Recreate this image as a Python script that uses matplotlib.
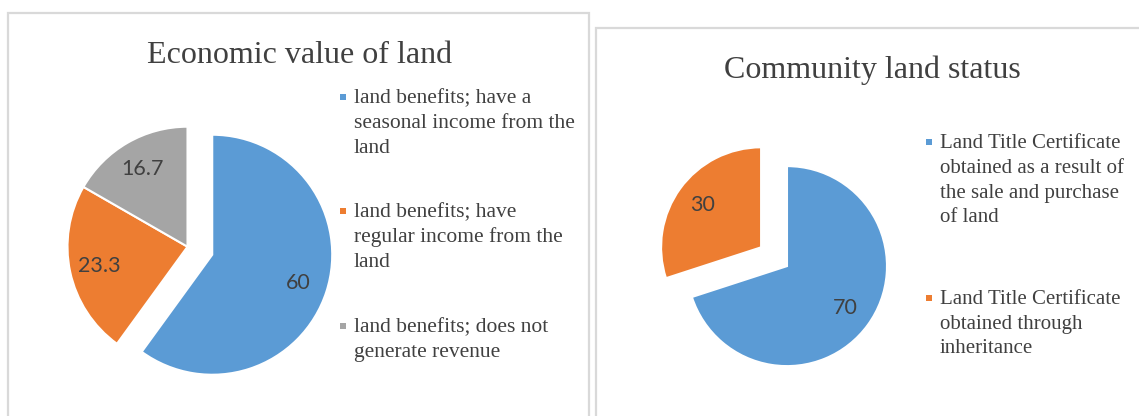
import matplotlib
matplotlib.use("Agg")
from matplotlib import pyplot as plt
from matplotlib.patches import Rectangle

# left chart: economic value of land
econ_labels = ["land benefits; have a\nseasonal income from the\nland",
               "land benefits; have\nregular income from the\nland",
               "land benefits; does not\ngenerate revenue"]
econ_values = [60, 23.3, 16.7]

# right chart: community land status
status_labels = ["Land Title Certificate\nobtained as a result of\nthe sale and purchase\nof land",
                 "Land Title Certificate\nobtained through\ninheritance"]
status_values = [70, 30]

blue = "#5B9BD5"
orange = "#ED7D31"
grey = "#A5A5A5"
txt = "#404040"
border = "#D9D9D9"

W, H = 1139, 416
fig = plt.figure(figsize=(W / 100, H / 100), dpi=100)
ax = fig.add_axes([0, 0, 1, 1])


def fy(y):
    # pixel row (from top) -> data y
    return H - y


def fmt(p):
    return "{:.3g}".format(p)


# panel borders
ax.add_patch(Rectangle((8, fy(440)), 581, 440 - 13, fill=False, ec=border, lw=1.6))
ax.add_patch(Rectangle((596, fy(440)), 600, 440 - 28, fill=False, ec=border, lw=1.6))

# pies
_, t1, a1 = ax.pie(econ_values, colors=[blue, orange, grey], startangle=90, counterclock=False,
                   explode=[26, 0, 0], radius=120, center=(187.5, fy(246.7)),
                   autopct=fmt, pctdistance=0.75,
                   wedgeprops=dict(edgecolor="white", linewidth=1.5))
_, t2, a2 = ax.pie(status_values, colors=[blue, orange], startangle=90, counterclock=False,
                   explode=[32, 0], radius=100, center=(761.1, fy(247.3)),
                   autopct=fmt, pctdistance=0.72,
                   wedgeprops=dict(edgecolor="white", linewidth=1.5))
for a in list(a1) + list(a2):
    a.set_fontfamily("Lato")
    a.set_fontsize(15.5)
    a.set_color(txt)

ax.set_xlim(0, W)
ax.set_ylim(0, H)
ax.set_aspect("auto")
ax.axis("off")

# titles
ax.text(299.5, fy(63.3), "Economic value of land", ha="center", va="baseline",
        fontsize=23, family="Liberation Serif", color=txt)
ax.text(872, fy(78.3), "Community land status", ha="center", va="baseline",
        fontsize=23, family="Liberation Serif", color=txt)


def legend(labels, colors, x_mark, x_text, starts, step, size):
    for lab, c, y0 in zip(labels, colors, starts):
        ax.plot(x_mark, fy(y0 - 6), "s", color=c, markersize=4.5, markeredgewidth=0)
        for i, line in enumerate(lab.split("\n")):
            ax.text(x_text, fy(y0 + i * step), line, ha="left", va="baseline",
                    fontsize=size, family="Liberation Serif", color=txt)


legend(econ_labels, [blue, orange, grey], 343.3, 354, [103.3, 217.3, 332.3], 25, 15.5)
legend(status_labels, [blue, orange], 929, 939.5, [148.3, 304], 24.7, 15)

fig.savefig("out.png", dpi=100, facecolor="white")
